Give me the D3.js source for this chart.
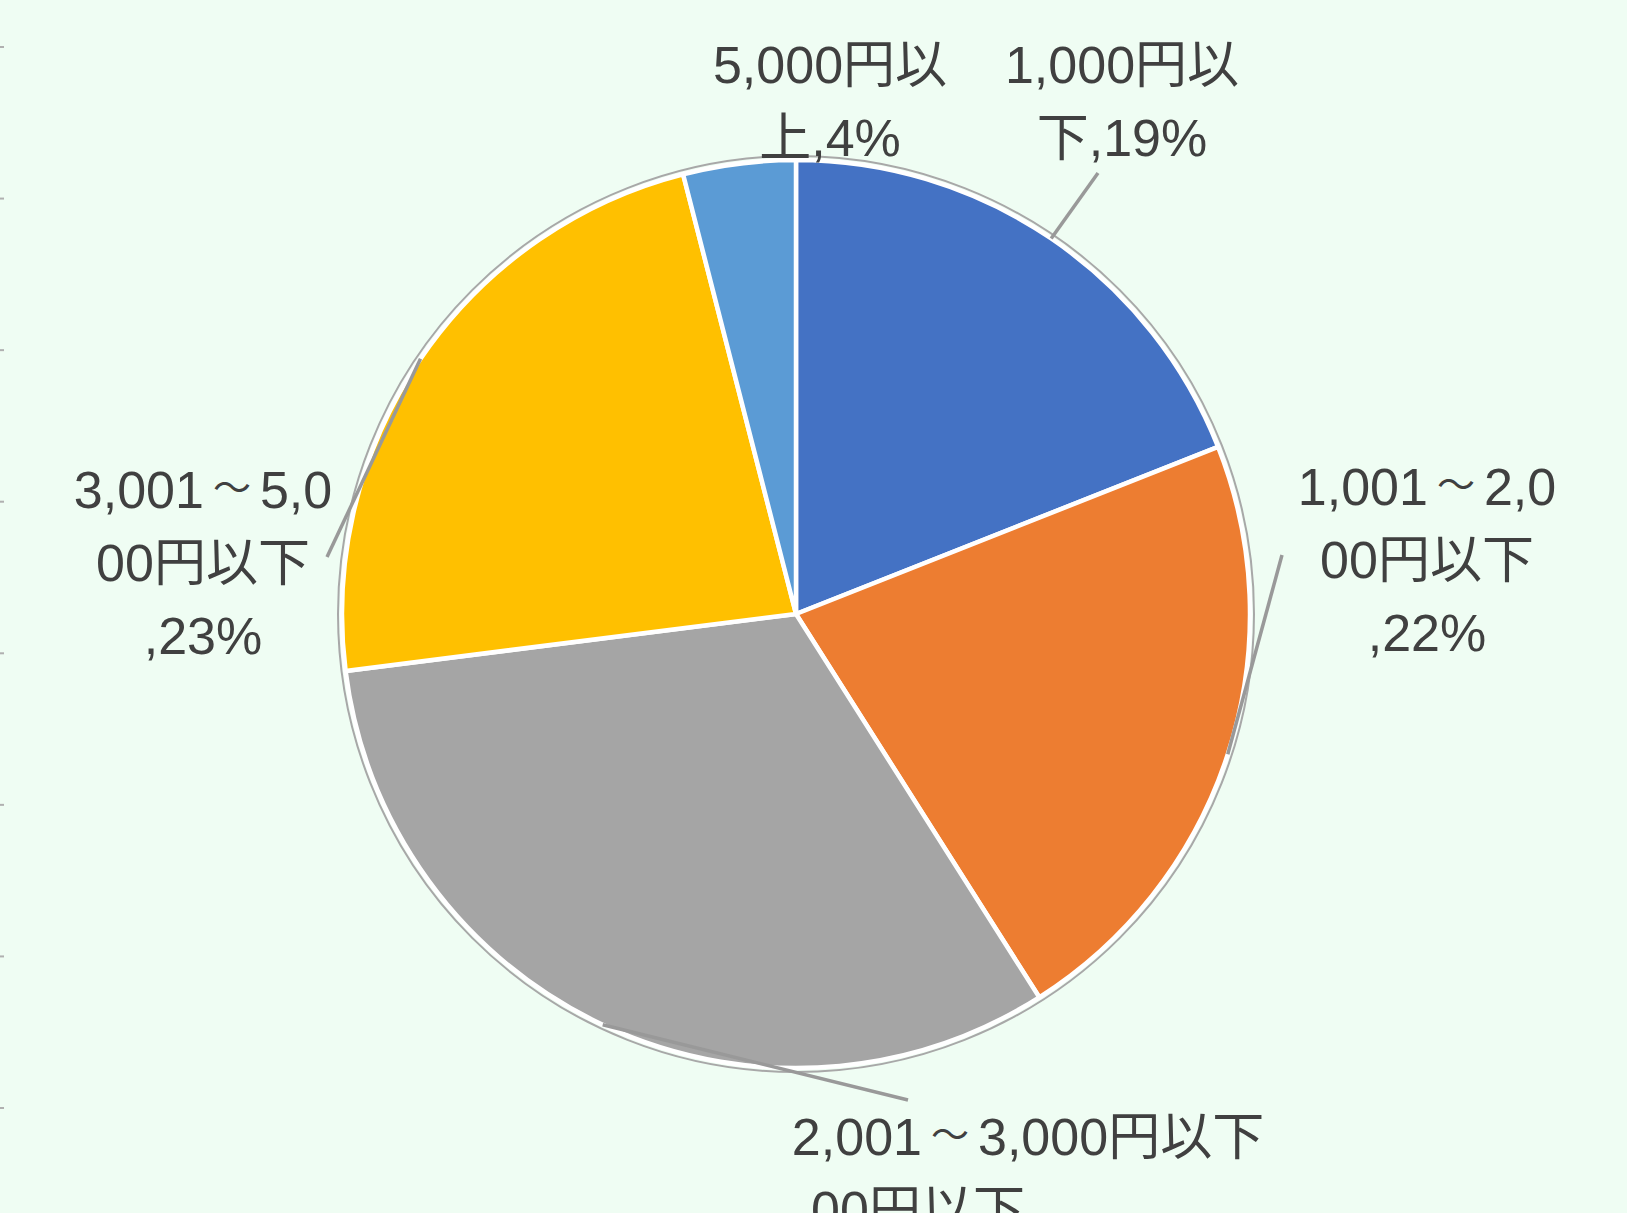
<!DOCTYPE html>
<html>
<head>
<meta charset="utf-8">
<script src="https://cdn.jsdelivr.net/npm/d3@7"></script>
<style>
  html, body { margin: 0; padding: 0; background: #effdf3; overflow: hidden; }
  svg { display: block; }
  .lbl { font-family: "Liberation Sans", Arial, "Noto Sans CJK JP", sans-serif; font-size: 52px; fill: #404040; }
</style>
</head>
<body>
<div id="chart"></div>
<script>
// data
var categories = ["1,000円以下", "1,001～2,000円以下", "2,001～3,000円以下", "3,001～5,000円以下", "5,000円以上"];
var shares = [19, 22, 32, 23, 4];
var colors = ["#4472c4", "#ed7d31", "#a5a5a5", "#ffc000", "#5b9bd5"];
// label text as it wraps in the picture
var labelLines = [
  ["1,000円以", "下,19%"],
  ["1,001～2,0", "00円以下", ",22%"],
  ["2,001～3,000円以下", ""],
  ["3,001～5,0", "00円以下", ",23%"],
  ["5,000円以", "上,4%"]
];
var tickValues = [0, 1, 2, 3, 4, 5, 6, 7];

var W = 1627, H = 1213;
var cx = 796, cy = 614, r = 454;

var svg = d3.select("#chart")
    .append("svg")
    .attr("width", W)
    .attr("height", H);

// stray axis ticks on the left edge
var ty = d3.scaleLinear().domain([0, 7]).range([47, 1108]);
svg.append("g")
    .selectAll("rect")
    .data(tickValues)
    .enter().append("rect")
      .attr("x", 0)
      .attr("y", function(d) { return ty(d) - 1; })
      .attr("width", 4)
      .attr("height", 2)
      .attr("fill", "#b0b0b0");

var pie = d3.pie().sort(null).value(function(d) { return d; });
var arcs = pie(shares);
var arc = d3.arc().innerRadius(0).outerRadius(r);
var edge = d3.arc().innerRadius(r).outerRadius(r);

var g = svg.append("g").attr("transform", "translate(" + cx + "," + cy + ")");

// thin outer ring
g.append("circle")
    .attr("r", r + 4)
    .attr("fill", "none")
    .attr("stroke", "#a8a8a8")
    .attr("stroke-width", 2);

g.selectAll("path.slice")
    .data(arcs)
    .enter().append("path")
      .attr("class", "slice")
      .attr("d", arc)
      .attr("fill", function(d, i) { return colors[i]; })
      .attr("stroke", "#ffffff")
      .attr("stroke-width", 4.5)
      .attr("stroke-linejoin", "round");

// label layout: centre x, first baseline, leader end (null = none)
var layout = [
  {x: 1122, y: 83,   end: [1098, 173]},
  {x: 1427, y: 505,  end: [1282, 555]},
  {x: 1028, y: 1155, end: [908, 1100]},
  {x: 203,  y: 508,  end: [327, 557]},
  {x: 830,  y: 83,   end: null}
];
var lh = 73;

// writes one line; the wave dash is drawn small, like the source
function addLine(t, s, x, y) {
  var parts = s.split("～");
  t.append("tspan").attr("x", x).attr("y", y).text(parts[0]);
  if (parts.length > 1) {
    t.append("tspan").attr("dx", 9).attr("dy", -7)
        .style("font-size", "38px").text("～");
    t.append("tspan").attr("dx", 9).attr("dy", 7).text(parts[1]);
  }
}

arcs.forEach(function(d, i) {
  var L = layout[i];
  if (L.end) {
    var c = edge.centroid(d);
    svg.append("line")
        .attr("x1", cx + c[0]).attr("y1", cy + c[1])
        .attr("x2", L.end[0]).attr("y2", L.end[1])
        .attr("stroke", "#999999")
        .attr("stroke-width", 3.5);
  }
  labelLines[i].forEach(function(s, k) {
    if (!s) return;
    var t = svg.append("text")
        .attr("class", "lbl")
        .attr("text-anchor", "middle");
    addLine(t, s, L.x, L.y + k * lh);
  });
});

// the clipped second line under the bottom label
svg.append("text")
    .attr("class", "lbl")
    .attr("text-anchor", "middle")
    .attr("x", 918)
    .attr("y", 1155 + lh)
    .text("00円以下");
</script>
</body>
</html>
